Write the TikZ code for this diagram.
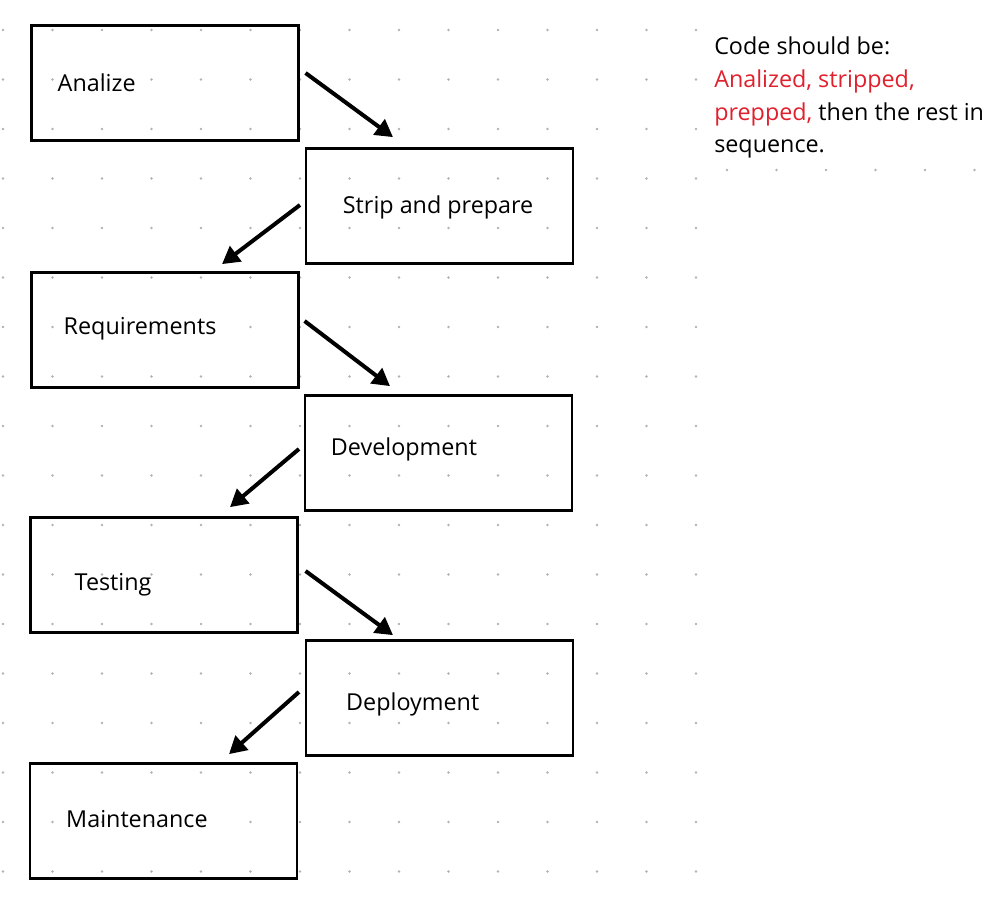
\documentclass[tikz,border=0pt]{standalone}
\usepackage{fontspec}
\setmainfont{Open Sans}
\usetikzlibrary{arrows.meta}
\definecolor{notered}{RGB}{224,33,45}
\definecolor{griddot}{RGB}{178,178,178}
\begin{document}
\begin{tikzpicture}[x=0.75pt,y=-0.75pt,
    stage/.style={draw, line width=1.8pt, minimum width=200pt, minimum height=86.5pt, inner sep=0pt},
    stagetext/.style={anchor=base west, inner sep=0pt, font=\fontsize{17.5}{21}\selectfont},
    note/.style={anchor=north west, inner sep=0pt, align=left, font=\fontsize{17.5}{24.4}\selectfont},
    flow/.style={line width=3pt, -{Triangle[length=13pt,width=14pt]}}]
    \useasboundingbox (0,0) rectangle (993,899);
    % dotted background grid
    \foreach \i in {0,...,14}
        \foreach \j in {0,...,17}
            \fill[griddot] (3+49.5*\i,30+49.5*\j) circle (1pt);
    \foreach \i in {0,...,5}
        \fill[griddot] (727+49.5*\i,170) circle (1pt);
    % stages, zig-zag down the page
    \node[stage] (analize) at (165,83) {};
    \node[stage] (strip) at (439.5,206) {};
    \node[stage] (requirements) at (165,330) {};
    \node[stage] (development) at (438.5,453) {};
    \node[stage] (testing) at (164,575) {};
    \node[stage] (deployment) at (439.5,698) {};
    \node[stage] (maintenance) at (163.5,821) {};
    % labels sit left of centre
    \node[stagetext] (analize-t) at ([shift={(27,8.7)}]analize.west) {Analize};
    \node[stagetext] (strip-t) at ([shift={(37.7,7.3)}]strip.west) {Strip and prepare};
    \node[stagetext] (requirements-t) at ([shift={(33,4)}]requirements.west) {Requirements};
    \node[stagetext] (development-t) at ([shift={(26.7,2.7)}]development.west) {Development};
    \node[stagetext] (testing-t) at ([shift={(45,15.7)}]testing.west) {Testing};
    \node[stagetext] (deployment-t) at ([shift={(41,12.7)}]deployment.west) {Deployment};
    \node[stagetext] (maintenance-t) at ([shift={(37,6.3)}]maintenance.west) {Maintenance};
    % arrows between stages
    \draw[flow] ([shift={(6,-10)}]analize.east) -- ([shift={(-46.5,-10)}]strip.north);
    \draw[flow] ([shift={(-5,-1)}]strip.west) -- ([shift={(57,-7)}]requirements.north);
    \draw[flow] ([shift={(5,-9)}]requirements.east) -- ([shift={(-48.5,-8)}]development.north);
    \draw[flow] ([shift={(-5,-4)}]development.west) -- ([shift={(66,-9)}]testing.north);
    \draw[flow] ([shift={(7,-4)}]testing.east) -- ([shift={(-46.5,-4)}]deployment.north);
    \draw[flow] ([shift={(-6,-6)}]deployment.west) -- ([shift={(65.5,-8)}]maintenance.north);
    % side note
    \node[note] (remark) at (714,37) {Code should be:\\
        \textcolor{notered}{Analized, stripped,}\\
        \textcolor{notered}{prepped,} then the rest in\\
        sequence.};
\end{tikzpicture}
\end{document}
